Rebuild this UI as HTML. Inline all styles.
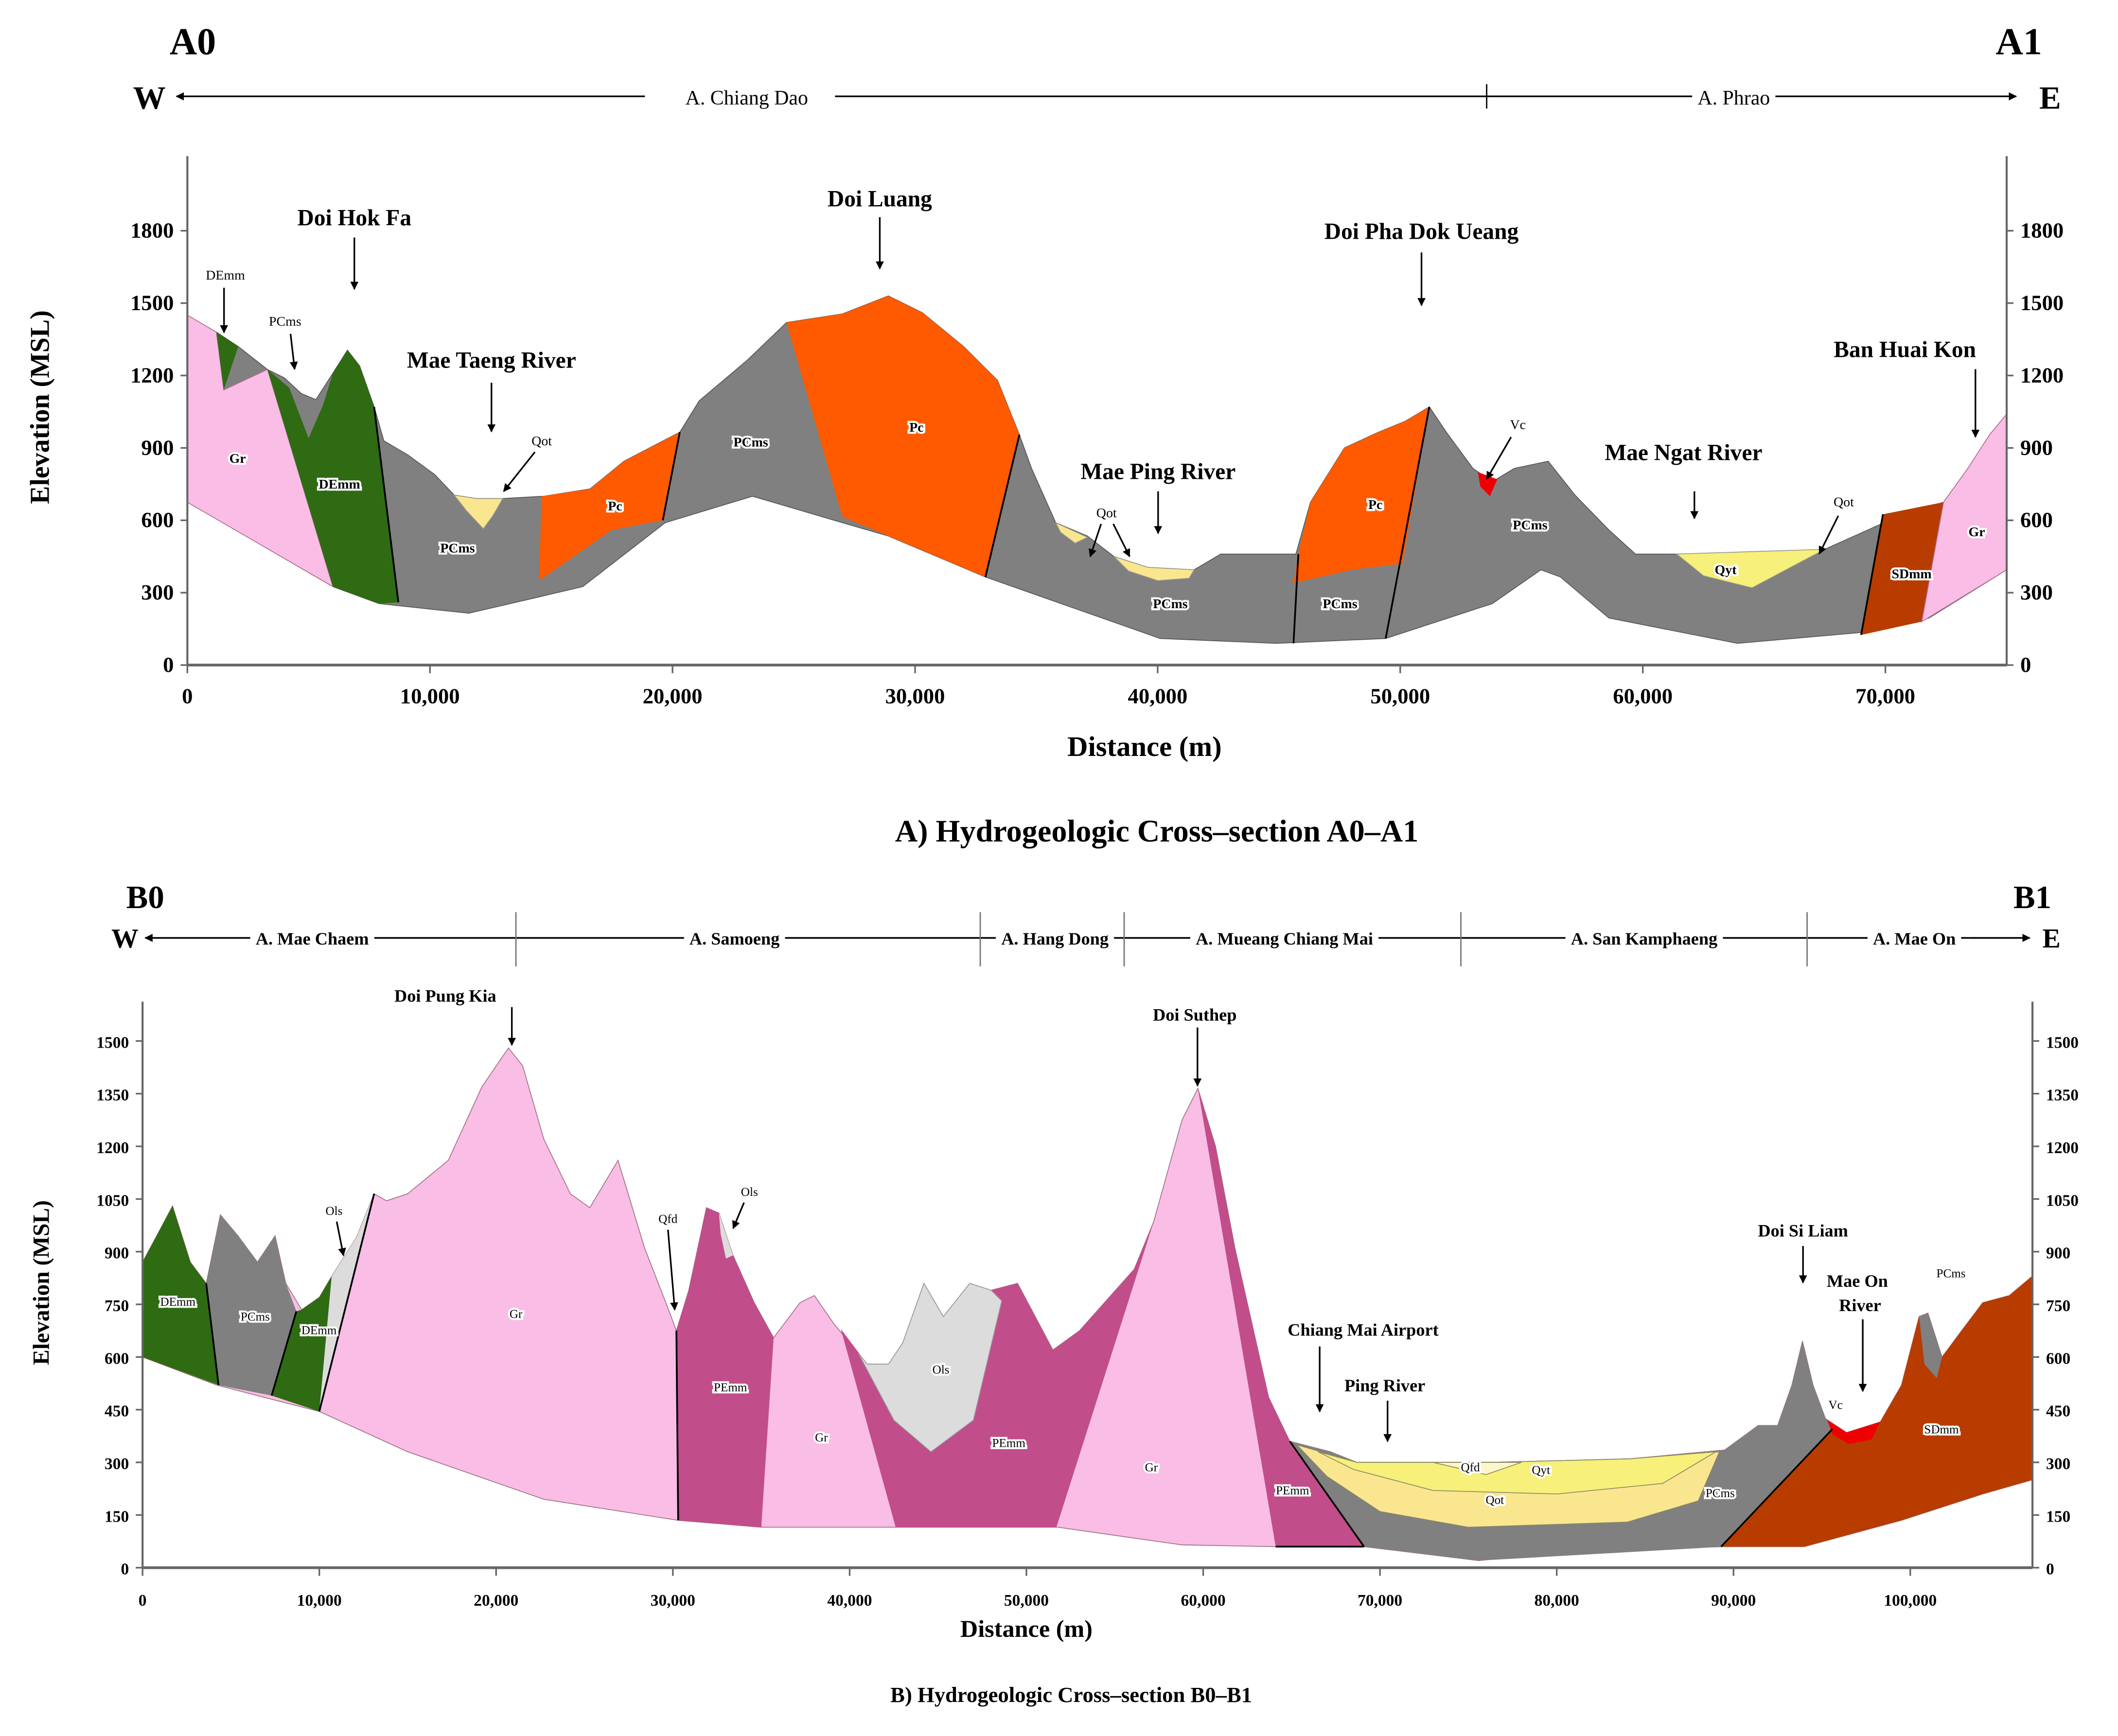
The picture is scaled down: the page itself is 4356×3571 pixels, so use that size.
<!DOCTYPE html>
<html><head><meta charset="utf-8"><style>
html,body{margin:0;padding:0;background:#fff}
svg{display:block}
text{font-family:"Liberation Serif",serif;}
</style></head><body>
<svg id="fig" width="4356" height="3571" viewBox="0 0 1560 1279" preserveAspectRatio="none" xmlns="http://www.w3.org/2000/svg">
<defs><marker id="ah" viewBox="0 0 10 10" refX="9" refY="5" markerWidth="5" markerHeight="5" orient="auto"><path d="M0,0L10,5L0,10z" fill="#000"/></marker></defs>
<g id="layerA"></g>
<g id="layerB"></g>
<g id="axes"></g>
<g id="labels"></g>
</svg>
<script>
// ---------- Section A data (distance km, elevation m) ----------
const aTicksY=[0,300,600,900,1200,1500,1800];
const aTicksX=[0,10000,20000,30000,40000,50000,60000,70000];
const aSurface=[[0,1450],[1.2,1380],[2.1,1320],[3.3,1225],[4.0,1190],[4.7,1125],[5.3,1100],[6.0,1210],[6.6,1305],[7.1,1240],[7.7,1070],[8.1,930],[9.1,870],[10.2,790],[11.0,705],[11.9,690],[13.0,690],[14.7,700],[16.6,730],[18.0,845],[20.3,965],[21.1,1095],[23.1,1265],[24.7,1420],[27.0,1455],[28.9,1530],[30.3,1460],[32.0,1320],[33.4,1180],[34.3,955],[34.8,815],[35.8,590],[37.1,535],[38.2,450],[39.6,405],[41.5,395],[42.6,460],[45.7,460],[46.3,675],[47.7,900],[49.1,965],[50.2,1010],[51.2,1070],[51.9,965],[53.0,815],[53.8,760],[54.7,815],[56.1,845],[57.2,705],[58.6,560],[59.7,460],[61.4,460],[63.4,460],[67.5,480],[70.6,620],[72.4,675],[73.4,815],[74.3,955],[75,1040]];
const aBase=[[75,395],[71.8,195],[69,135],[63.9,90],[58.6,195],[56.6,365],[55.8,395],[53.8,255],[49.4,110],[44.9,90],[40.1,110],[32.9,365],[28.9,535],[27,590],[23.3,700],[19.7,590],[16.3,325],[14.4,280],[11.6,215],[7.9,255],[6.0,325],[0,675]];
const aGrL=[[0,1450],[1.2,1380],[1.5,1140],[3.3,1225],[6.0,325],[0,675]];
const aDEmm1=[[1.2,1380],[2.1,1320],[1.5,1140]];
const aDEmm2=[[3.3,1225],[4.2,1150],[5.0,940],[5.6,1080],[6.0,1210],[6.6,1305],[7.1,1240],[7.7,1070],[8.7,260],[7.9,255],[6.0,325]];
const aPc1=[[14.6,700],[16.6,730],[18,845],[20.3,965],[19.6,600],[17.5,560],[14.5,350]];
const aPc2=[[24.7,1420],[27,1455],[28.9,1530],[30.3,1460],[32,1320],[33.4,1180],[34.3,955],[32.9,365],[28.9,535],[27,615]];
const aPc3=[[45.8,460],[46.3,675],[47.7,900],[49.1,965],[50.2,1010],[51.2,1070],[50.1,420],[48,395],[45.6,340]];
const aQot1=[[11,705],[11.9,690],[13,690],[12.6,620],[12.2,565],[11.5,640]];
const aQot2=[[35.8,590],[37.1,530],[36.6,505],[36,550]];
const aQot3=[[38.2,450],[39.6,405],[41.5,395],[41.3,360],[40,350],[38.8,390]];
const aQyt=[[61.4,460],[67.5,480],[66,400],[64.5,320],[62.5,370]];
const aVc=[[53.2,800],[54.0,770],[53.7,700],[53.3,740]];
const aSDmm=[[69.9,625],[72.4,675],[71.5,180],[69.0,125]];
const aGrR=[[72.4,675],[73.4,815],[74.3,955],[75,1040],[75,395],[71.5,180]];
// ---------- Section B data ----------
const bTicksY=[0,150,300,450,600,750,900,1050,1200,1350,1500];
const bTicksX=[0,10000,20000,30000,40000,50000,60000,70000,80000,90000,100000];
const bSurface=[[0,870],[0.8,945],[1.7,1030],[2.7,870],[3.6,810],[4.4,1005],[5.4,945],[6.5,870],[7.5,945],[8.1,810],[9.0,735],[10.0,770],[10.7,830],[12.1,940],[13.1,1065],[13.8,1045],[15,1065],[17.3,1160],[19.2,1370],[20.7,1480],[21.5,1430],[22.7,1220],[24.2,1065],[25.3,1025],[26.9,1160],[28.4,910],[29.6,755],[30.2,675],[30.9,790],[31.9,1025],[32.6,1010],[33.4,890],[34.6,755],[35.7,655],[37.2,755],[38,775],[39.1,695],[41,580],[42.2,580],[43,640],[44.2,810],[45.3,715],[46.8,810],[48,790],[49.5,810],[51.5,620],[53,675],[56.1,850],[57.2,985],[58.8,1275],[59.7,1365],[60.7,1200],[61.8,910],[63.7,485],[64.9,360],[67.2,330],[68.7,300],[76.4,300],[84.1,310],[89.5,335],[91.4,405],[92.5,405],[93.3,520],[93.9,645],[94.5,520],[95.2,425],[96.4,385],[98.3,415],[99.5,520],[100.5,715],[101,725],[101.8,600],[102.9,675],[104.1,755],[105.6,775],[106.9,830]];
const bBase=[[106.9,250],[104.1,210],[99.5,135],[94,60],[89.5,60],[81,50],[75.6,20],[69.1,60],[64.1,60],[58.8,65],[51.8,115],[42.6,115],[35,115],[30.3,135],[22.7,195],[15,330],[10,445],[4.2,520],[0,600]];
const bDEmm1=[[0,870],[0.8,945],[1.7,1030],[2.7,870],[3.6,810],[4.3,520],[0,600]];
const bPCms1=[[3.6,810],[4.4,1005],[5.4,945],[6.5,870],[7.5,945],[8.1,810],[8.7,730],[7.3,490],[4.3,520]];
const bDEmm2=[[8.7,730],[9,735],[10,770],[10.7,830],[10,445],[7.3,490]];
const bOls1=[[10.7,830],[12.1,940],[13.1,1065],[10,445]];
const bPEmm1=[[30.2,675],[30.9,790],[31.9,1025],[32.6,1010],[33.4,890],[34.6,755],[35.7,655],[35,115],[30.3,135]];
const bOls2=[[32.6,1010],[33.4,890],[33.0,880],[32.7,950]];
const bPEmm2=[[39.5,680],[41,580],[42.2,580],[43,640],[44.2,810],[45.3,715],[46.8,810],[48,790],[49.5,810],[51.5,620],[53,675],[56.1,850],[57.2,985],[51.7,115],[42.6,115]];
const bOls3=[[40.5,610],[41,580],[42.2,580],[43,640],[44.2,810],[45.3,715],[46.8,810],[48,790],[48.6,760],[47,420],[44.6,330],[42.5,420]];
const bPEmm3=[[59.7,1365],[60.7,1200],[61.8,910],[63.7,485],[64.9,360],[66,330],[69.1,60],[64.1,60]];
const bPCms2=[[64.9,360],[67.2,330],[68.7,300],[76.4,300],[84.1,310],[89.5,335],[91.4,405],[92.5,405],[93.3,520],[93.9,645],[94.5,520],[95.2,425],[95.8,400],[89.5,60],[75.6,20],[69.1,60]];
const bQot=[[65.3,350],[68.7,300],[76.4,300],[84.1,310],[89.2,330],[88,190],[84,130],[75,115],[70,160],[67,260]];
const bQyt=[[66.5,330],[68.7,300],[76.4,300],[84.1,310],[89,330],[86,240],[80,210],[73,220],[68.5,280]];
const bQfd=[[73,300],[78,300],[76,265]];
const bSDmm=[[95.6,395],[96.4,385],[98.3,415],[99.5,520],[100.5,715],[101,725],[101.8,600],[102.9,675],[104.1,755],[105.6,775],[106.9,830],[106.9,250],[104.1,210],[99.5,135],[94,60],[89.3,60]];
const bPCms3=[[100.5,715],[101,725],[101.8,600],[101.5,540],[100.8,580]];
const bVc=[[95.3,420],[96.4,385],[98.3,415],[97.8,365],[96.5,352],[95.6,380]];

// ---------- scales ----------
const xA=km=>138+km/75*1340, yA=m=>490-m*0.17778;
const xB=km=>105+km*13.02, yB=m=>1155-m*0.2587;
const NS="http://www.w3.org/2000/svg";
function mk(parent,tag,attrs){const e=document.createElementNS(NS,tag);for(const k in attrs)e.setAttribute(k,attrs[k]);parent.appendChild(e);return e;}
function poly(g,pts,sx,sy,fill,name,stroke){
  const e=mk(g,'polygon',{points:pts.map(p=>sx(p[0]).toFixed(1)+','+sy(p[1]).toFixed(1)).join(' '),fill:fill,stroke:stroke||'none','stroke-width':0.6});
  
  
  return e;
}
const G='#808080',PK='#f9bde6',GR='#2e6b12',OR='#ff5a00',BR='#b83c00',PE='#c24d8b',OL='#dcdcdc',QO='#fbe690',QY='#f7f07a',RD='#ee0000';
const LA=document.getElementById('layerA'), LB=document.getElementById('layerB');
poly(LA,aSurface.concat(aBase),xA,yA,G,'a-pcms-body','#555');
poly(LA,aGrL,xA,yA,PK,'a-gr-left','#b07090');
poly(LA,aDEmm1,xA,yA,GR,'a-demm-1');
poly(LA,aDEmm2,xA,yA,GR,'a-demm-2');
poly(LA,aPc1,xA,yA,OR,'a-pc-1');
poly(LA,aPc2,xA,yA,OR,'a-pc-2');
poly(LA,aPc3,xA,yA,OR,'a-pc-3');
poly(LA,aQot1,xA,yA,QO,'a-qot-1','#998');
poly(LA,aQot2,xA,yA,QO,'a-qot-2','#998');
poly(LA,aQot3,xA,yA,QO,'a-qot-3','#998');
poly(LA,aQyt,xA,yA,QY,'a-qyt','#998');
poly(LA,aVc,xA,yA,RD,'a-vc');
poly(LA,aSDmm,xA,yA,BR,'a-sdmm');
poly(LA,aGrR,xA,yA,PK,'a-gr-right','#b07090');
poly(LB,bSurface.concat(bBase),xB,yB,PK,'b-gr-body','#a07080');
poly(LB,bDEmm1,xB,yB,GR,'b-demm-1');
poly(LB,bPCms1,xB,yB,G,'b-pcms-1');
poly(LB,bDEmm2,xB,yB,GR,'b-demm-2');
poly(LB,bOls1,xB,yB,OL,'b-ols-1');
poly(LB,bPEmm1,xB,yB,PE,'b-pemm-1');
poly(LB,bOls2,xB,yB,OL,'b-ols-2');
poly(LB,bPEmm2,xB,yB,PE,'b-pemm-2');
poly(LB,bOls3,xB,yB,OL,'b-ols-3','#999');
poly(LB,bPEmm3,xB,yB,PE,'b-pemm-3');
poly(LB,bPCms2,xB,yB,G,'b-pcms-2');
poly(LB,bQot,xB,yB,QO,'b-qot','#886');
poly(LB,bQyt,xB,yB,QY,'b-qyt','#886');
poly(LB,bQfd,xB,yB,'#fbf7c8','b-qfd','#886');
poly(LB,bSDmm,xB,yB,BR,'b-sdmm');
poly(LB,bPCms3,xB,yB,G,'b-pcms-3');
poly(LB,bVc,xB,yB,RD,'b-vc');
// fault lines
const AX=document.getElementById('axes');
[[[8.7,260],[7.7,1070]],[[32.9,365],[34.3,955]],[[45.6,90],[45.8,460]],[[49.4,110],[51.2,1070]],[[69.0,125],[69.9,625]],[[19.6,600],[20.3,965]]].forEach(f=>{
  const l=mk(AX,'line',{x1:xA(f[0][0]),y1:yA(f[0][1]),x2:xA(f[1][0]),y2:yA(f[1][1]),stroke:'#000','stroke-width':1.3});
  
});
[[[30.3,135],[30.2,675]],[[64.1,60],[69.1,60]],[[69.1,60],[64.9,360]],[[89.3,60],[95.6,395]],[[4.3,520],[3.6,810]],[[7.3,490],[8.7,730]],[[10,445],[13.1,1065]]].forEach(f=>{
  const l=mk(AX,'line',{x1:xB(f[0][0]),y1:yB(f[0][1]),x2:xB(f[1][0]),y2:yB(f[1][1]),stroke:'#000','stroke-width':1.3});
  
});
// axes
function axis(sx,sy,x0,x1,yTop,ticksY,ticksX,fs,pre){
  mk(AX,'line',{x1:x0,y1:yTop,x2:x0,y2:sy(0),stroke:'#666','stroke-width':1.5});
  mk(AX,'line',{x1:x1,y1:yTop,x2:x1,y2:sy(0),stroke:'#666','stroke-width':1.5});
  mk(AX,'line',{x1:x0,y1:sy(0),x2:x1,y2:sy(0),stroke:'#666','stroke-width':2});
  ticksY.forEach(v=>{
    const y=sy(v);
    mk(AX,'line',{x1:x0-5,y1:y,x2:x0,y2:y,stroke:'#666','stroke-width':1.2});
    mk(AX,'line',{x1:x1,y1:y,x2:x1+5,y2:y,stroke:'#666','stroke-width':1.2});
    const t1=mk(AX,'text',{x:x0-10,y:y+5,'text-anchor':'end','font-size':fs,'font-weight':'bold'});t1.textContent=v;
    
    const t2=mk(AX,'text',{x:x1+10,y:y+5,'font-size':fs,'font-weight':'bold'});t2.textContent=v;
    
  });
  ticksX.forEach(v=>{
    const x=sx(v/1000);
    mk(AX,'line',{x1:x,y1:sy(0),x2:x,y2:sy(0)+6,stroke:'#666','stroke-width':1.2});
    const t=mk(AX,'text',{x:x,y:sy(0)+28,'text-anchor':'middle','font-size':fs,'font-weight':'bold'});t.textContent=v.toLocaleString('en-US');
    
  });
}
axis(xA,yA,138,1478,115,aTicksY,aTicksX,16,'a');
axis(xB,yB,105,1497,738,bTicksY,bTicksX,12,'b');
// labels
const LBL=document.getElementById('labels');
function txt(x,y,s,fs,name,opt){opt=opt||{};const t=mk(LBL,'text',{x:x,y:y,'font-size':fs,'text-anchor':opt.a||'middle','font-weight':opt.w||'bold'});
  if(opt.rot)t.setAttribute('transform','rotate(-90 '+x+' '+y+')');
  if(opt.bg)t.setAttribute('style','paint-order:stroke;stroke:#fff;stroke-width:3px');
  t.textContent=s;
  if(opt.box){const b=t.getBBox();const r=mk(LBL,'rect',{x:b.x-4,y:b.y,width:b.width+8,height:b.height,fill:'#fff'});LBL.insertBefore(r,t);}
  return t;}
function arr(x1,y1,x2,y2,name){const l=mk(LBL,'line',{x1:x1,y1:y1,x2:x2,y2:y2,stroke:'#000','stroke-width':1.2,'marker-end':'url(#ah)'});}
// header A
txt(142,40,'A0',28,'a0-label');txt(1487,40,'A1',28,'a1-label');
txt(110,80,'W',24,'west-label-a');txt(1510,80,'E',24,'east-label-a');
arr(475,71,130,71,'a-west-arrow');arr(615,71,1485,71,'a-east-arrow');
mk(LBL,'line',{x1:1095,y1:62,x2:1095,y2:80,stroke:'#000','stroke-width':1});
txt(550,77,'A. Chiang Dao',15,'district-chiang-dao',{box:1,w:'normal'});
txt(1277,77,'A. Phrao',15,'district-phrao',{box:1,w:'normal'});
txt(36,300,'Elevation (MSL)',20,'a-y-axis-title',{rot:1});
txt(843,557,'Distance (m)',21,'a-x-axis-title');
txt(852,620,'A) Hydrogeologic Cross–section A0–A1',23,'a-caption');
[[261,166,'Doi Hok Fa',175,213],[648,152,'Doi Luang',160,198],[1047,176,'Doi Pha Dok Ueang',186,225]].forEach(a=>{txt(a[0],a[1],a[2],17,'peak-label');arr(a[0],a[3],a[0],a[4],'peak-arrow');});
txt(362,271,'Mae Taeng River',17,'river-mae-taeng');arr(362,282,362,318,'river-arrow');
txt(853,353,'Mae Ping River',17,'river-mae-ping');arr(853,362,853,393,'river-arrow');
txt(1240,339,'Mae Ngat River',17,'river-mae-ngat');arr(1248,362,1248,382,'river-arrow');
txt(1403,263,'Ban Huai Kon',17,'ban-huai-kon-label');arr(1455,272,1455,322,'village-arrow');
txt(166,206,'DEmm',10,'a-demm-callout',{w:'normal'});arr(165,212,165,245,'callout-arrow');
txt(210,240,'PCms',10,'a-pcms-callout',{w:'normal'});arr(214,246,217,272,'callout-arrow');
txt(399,328,'Qot',10,'a-qot-callout',{w:'normal'});arr(394,333,371,362,'callout-arrow');
txt(1118,316,'Vc',10,'a-vc-callout',{w:'normal'});arr(1113,322,1095,353,'callout-arrow');
txt(815,381,'Qot',10,'a-qot-callout-2',{w:'normal'});arr(811,386,803,410,'callout-arrow');arr(820,386,832,410,'callout-arrow');
txt(1358,373,'Qot',10,'a-qot-callout-3',{w:'normal'});arr(1354,380,1340,408,'callout-arrow');
[[175,341,'Gr'],[250,360,'DEmm'],[337,407,'PCms'],[453,376,'Pc'],[553,329,'PCms'],[675,318,'Pc'],[862,448,'PCms'],[987,448,'PCms'],[1013,375,'Pc'],[1127,390,'PCms'],[1271,423,'Qyt'],[1408,426,'SDmm'],[1456,395,'Gr']].forEach(l=>txt(l[0],l[1],l[2],10,'a-formation-label',{bg:1}));
// header B
txt(107,669,'B0',24,'b0-label');txt(1497,669,'B1',24,'b1-label');
txt(92,698,'W',20,'west-label-b');txt(1511,698,'E',20,'east-label-b');
arr(180,691,107,691,'b-west-arrow');arr(1450,691,1495,691,'b-east-arrow');
mk(LBL,'line',{x1:180,y1:691,x2:1450,y2:691,stroke:'#000','stroke-width':1.2});
[380,722,828,1076,1331].forEach(x=>mk(LBL,'line',{x1:x,y1:672,x2:x,y2:712,stroke:'#777','stroke-width':1}));
[[230,'A. Mae Chaem'],[541,'A. Samoeng'],[777,'A. Hang Dong'],[946,'A. Mueang Chiang Mai'],[1211,'A. San Kamphaeng'],[1410,'A. Mae On']].forEach(d=>txt(d[0],696,d[1],13,'district-label',{box:1}));
txt(36,945,'Elevation (MSL)',17,'b-y-axis-title',{rot:1});
txt(756,1206,'Distance (m)',18,'b-x-axis-title');
txt(789,1254,'B) Hydrogeologic Cross–section B0–B1',16,'b-caption');
txt(328,738,'Doi Pung Kia',13,'peak-doi-pung-kia');arr(377,742,377,770,'peak-arrow');
txt(880,752,'Doi Suthep',13,'peak-doi-suthep');arr(882,757,882,800,'peak-arrow');
txt(1328,911,'Doi Si Liam',13,'peak-doi-si-liam');arr(1328,918,1328,945,'peak-arrow');
txt(1368,948,'Mae On',13,'river-mae-on');txt(1370,966,'River',13,'river-mae-on-2');arr(1372,972,1372,1025,'river-arrow');
txt(1004,984,'Chiang Mai Airport',13,'airport-label');arr(972,992,972,1040,'airport-arrow');
txt(1020,1025,'Ping River',13,'river-ping');arr(1022,1032,1022,1062,'river-arrow');
txt(246,895,'Ols',9,'b-ols-callout',{w:'normal'});arr(248,900,253,925,'callout-arrow');
txt(552,881,'Ols',9,'b-ols-callout-2',{w:'normal'});arr(548,886,540,905,'callout-arrow');
txt(492,901,'Qfd',9,'b-qfd-callout',{w:'normal'});arr(492,906,497,965,'callout-arrow');
txt(1437,941,'PCms',9,'b-pcms-callout',{w:'normal'});
txt(1352,1038,'Vc',9,'b-vc-callout',{w:'normal'});
[[131,962,'DEmm'],[188,973,'PCms'],[235,983,'DEmm'],[380,971,'Gr'],[538,1025,'PEmm'],[605,1062,'Gr'],[693,1012,'Ols'],[743,1066,'PEmm'],[848,1084,'Gr'],[952,1101,'PEmm'],[1083,1084,'Qfd'],[1135,1086,'Qyt'],[1101,1108,'Qot'],[1267,1103,'PCms'],[1430,1056,'SDmm']].forEach(l=>txt(l[0],l[1],l[2],9,'b-formation-label',{bg:1,w:'normal'}));
</script>
</body></html>
